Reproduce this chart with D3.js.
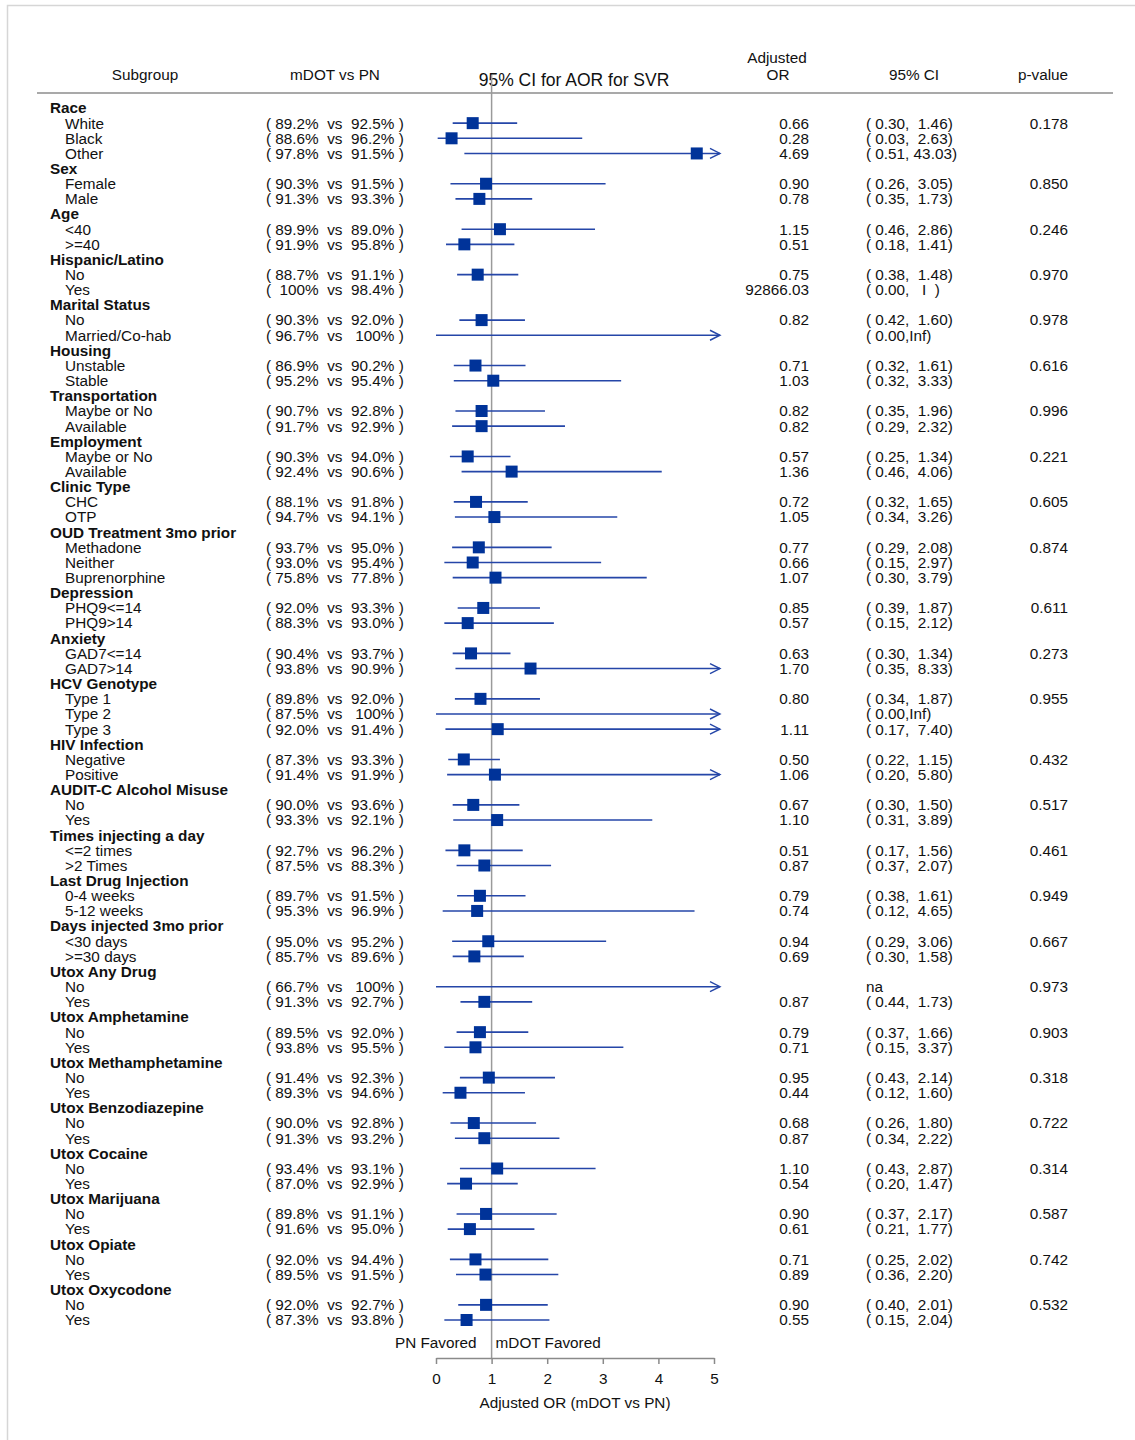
<!DOCTYPE html>
<html>
<head>
<meta charset="utf-8">
<script src="https://cdn.jsdelivr.net/npm/d3@7"></script>
<style>
  html, body { margin: 0; padding: 0; background: #fff; }
  svg text { font-family: "Liberation Sans", Arial, sans-serif; fill: #111; white-space: pre; }
</style>
</head>
<body>
<script>
// ---------------- DATA ----------------
const groupNames = ["Race","Sex","Age","Hispanic/Latino","Marital Status","Housing","Transportation","Employment","Clinic Type","OUD Treatment 3mo prior","Depression","Anxiety","HCV Genotype","HIV Infection","AUDIT-C Alcohol Misuse","Times injecting a day","Last Drug Injection","Days injected 3mo prior","Utox Any Drug","Utox Amphetamine","Utox Methamphetamine","Utox Benzodiazepine","Utox Cocaine","Utox Marijuana","Utox Opiate","Utox Oxycodone"];
const subgroupLabels = [
  ["White","Black","Other"],["Female","Male"],["<40",">=40"],["No","Yes"],["No","Married/Co-hab"],
  ["Unstable","Stable"],["Maybe or No","Available"],["Maybe or No","Available"],["CHC","OTP"],
  ["Methadone","Neither","Buprenorphine"],["PHQ9<=14","PHQ9>14"],["GAD7<=14","GAD7>14"],
  ["Type 1","Type 2","Type 3"],["Negative","Positive"],["No","Yes"],["<=2 times",">2 Times"],
  ["0-4 weeks","5-12 weeks"],["<30 days",">=30 days"],["No","Yes"],["No","Yes"],["No","Yes"],
  ["No","Yes"],["No","Yes"],["No","Yes"],["No","Yes"],["No","Yes"]
];
const pValues = ["0.178","0.850","0.246","0.970","0.978","0.616","0.996","0.221","0.605","0.874","0.611","0.273","0.955","0.432","0.517","0.461","0.949","0.667","0.973","0.903","0.318","0.722","0.314","0.587","0.742","0.532"];
// per-subgroup (flat, in row order)
const mdotPct = [89.2,88.6,97.8, 90.3,91.3, 89.9,91.9, 88.7,100, 90.3,96.7, 86.9,95.2, 90.7,91.7, 90.3,92.4, 88.1,94.7, 93.7,93.0,75.8, 92.0,88.3, 90.4,93.8, 89.8,87.5,92.0, 87.3,91.4, 90.0,93.3, 92.7,87.5, 89.7,95.3, 95.0,85.7, 66.7,91.3, 89.5,93.8, 91.4,89.3, 90.0,91.3, 93.4,87.0, 89.8,91.6, 92.0,89.5, 92.0,87.3];
const pnPct   = [92.5,96.2,91.5, 91.5,93.3, 89.0,95.8, 91.1,98.4, 92.0,100, 90.2,95.4, 92.8,92.9, 94.0,90.6, 91.8,94.1, 95.0,95.4,77.8, 93.3,93.0, 93.7,90.9, 92.0,100,91.4, 93.3,91.9, 93.6,92.1, 96.2,88.3, 91.5,96.9, 95.2,89.6, 100,92.7, 92.0,95.5, 92.3,94.6, 92.8,93.2, 93.1,92.9, 91.1,95.0, 94.4,91.5, 92.7,93.8];
const aor     = [0.66,0.28,4.69, 0.90,0.78, 1.15,0.51, 0.75,92866.03, 0.82,null, 0.71,1.03, 0.82,0.82, 0.57,1.36, 0.72,1.05, 0.77,0.66,1.07, 0.85,0.57, 0.63,1.70, 0.80,null,1.11, 0.50,1.06, 0.67,1.10, 0.51,0.87, 0.79,0.74, 0.94,0.69, null,0.87, 0.79,0.71, 0.95,0.44, 0.68,0.87, 1.10,0.54, 0.90,0.61, 0.71,0.89, 0.90,0.55];
const ciLow   = [0.30,0.03,0.51, 0.26,0.35, 0.46,0.18, 0.38,null, 0.42,0.00, 0.32,0.32, 0.35,0.29, 0.25,0.46, 0.32,0.34, 0.29,0.15,0.30, 0.39,0.15, 0.30,0.35, 0.34,0.00,0.17, 0.22,0.20, 0.30,0.31, 0.17,0.37, 0.38,0.12, 0.29,0.30, 0.00,0.44, 0.37,0.15, 0.43,0.12, 0.26,0.34, 0.43,0.20, 0.37,0.21, 0.25,0.36, 0.40,0.15];
const ciHigh  = [1.46,2.63,43.03, 3.05,1.73, 2.86,1.41, 1.48,null, 1.60,Infinity, 1.61,3.33, 1.96,2.32, 1.34,4.06, 1.65,3.26, 2.08,2.97,3.79, 1.87,2.12, 1.34,8.33, 1.87,Infinity,7.40, 1.15,5.80, 1.50,3.89, 1.56,2.07, 1.61,4.65, 3.06,1.58, Infinity,1.73, 1.66,3.37, 2.14,1.60, 1.80,2.22, 2.87,1.47, 2.17,1.77, 2.02,2.20, 2.01,2.04];
const ciLabels = ["( 0.30,  1.46)","( 0.03,  2.63)","( 0.51, 43.03)","( 0.26,  3.05)","( 0.35,  1.73)","( 0.46,  2.86)","( 0.18,  1.41)","( 0.38,  1.48)","( 0.00,   I  )","( 0.42,  1.60)","( 0.00,Inf)","( 0.32,  1.61)","( 0.32,  3.33)","( 0.35,  1.96)","( 0.29,  2.32)","( 0.25,  1.34)","( 0.46,  4.06)","( 0.32,  1.65)","( 0.34,  3.26)","( 0.29,  2.08)","( 0.15,  2.97)","( 0.30,  3.79)","( 0.39,  1.87)","( 0.15,  2.12)","( 0.30,  1.34)","( 0.35,  8.33)","( 0.34,  1.87)","( 0.00,Inf)","( 0.17,  7.40)","( 0.22,  1.15)","( 0.20,  5.80)","( 0.30,  1.50)","( 0.31,  3.89)","( 0.17,  1.56)","( 0.37,  2.07)","( 0.38,  1.61)","( 0.12,  4.65)","( 0.29,  3.06)","( 0.30,  1.58)","na","( 0.44,  1.73)","( 0.37,  1.66)","( 0.15,  3.37)","( 0.43,  2.14)","( 0.12,  1.60)","( 0.26,  1.80)","( 0.34,  2.22)","( 0.43,  2.87)","( 0.20,  1.47)","( 0.37,  2.17)","( 0.21,  1.77)","( 0.25,  2.02)","( 0.36,  2.20)","( 0.40,  2.01)","( 0.15,  2.04)"];
const axisTicks = [0,1,2,3,4,5];
const headerLabels = ["Subgroup","mDOT vs PN","95% CI for AOR for SVR","Adjusted","OR","95% CI","p-value"];

// ---------------- LAYOUT ----------------
const W = 1135, H = 1440;
const FS = "15.3px";
const svg = d3.select("body").append("svg").attr("width", W).attr("height", H);

// frame
svg.append("path").attr("d", "M7.5,1440V5.5H1135").attr("fill","none").attr("stroke","#d6d6d6").attr("stroke-width",1.5);

// build rows
const rows = [];
let k = 0;
groupNames.forEach((g, gi) => {
  rows.push({type:"group", label:g});
  subgroupLabels[gi].forEach((s, si) => {
    rows.push({type:"sub", label:s, idx:k, p: si === 0 ? pValues[gi] : ""});
    k++;
  });
});

const y = d3.scaleLinear().domain([0, rows.length - 1]).range([108, 1320]);
const x = d3.scaleLinear().domain([0, 5]).range([436, 714]);
const arrowX = x(5) + 6;

const fmtPct = v => v === 100 ? " 100%" : v.toFixed(1) + "%";

// header
const hdr = svg.append("g");
hdr.append("text").attr("x",145).attr("y",80).attr("text-anchor","middle").style("font-size",FS).text(headerLabels[0]);
hdr.append("text").attr("x",335).attr("y",80).attr("text-anchor","middle").style("font-size",FS).text(headerLabels[1]);
hdr.append("text").attr("x",574).attr("y",86).attr("text-anchor","middle").style("font-size","17.5px").text(headerLabels[2]);
hdr.append("text").attr("x",777).attr("y",63).attr("text-anchor","middle").style("font-size",FS).text(headerLabels[3]);
hdr.append("text").attr("x",778).attr("y",80).attr("text-anchor","middle").style("font-size",FS).text(headerLabels[4]);
hdr.append("text").attr("x",914).attr("y",80).attr("text-anchor","middle").style("font-size",FS).text(headerLabels[5]);
hdr.append("text").attr("x",1043).attr("y",80).attr("text-anchor","middle").style("font-size",FS).text(headerLabels[6]);
svg.append("line").attr("x1",37).attr("x2",1113).attr("y1",93).attr("y2",93).attr("stroke","#a9a9a9").attr("stroke-width",2);

// reference line at OR = 1
svg.append("line").attr("x1",x(1)).attr("x2",x(1)).attr("y1",75).attr("y2",1358).attr("stroke","#9a9a9a").attr("stroke-width",1.5);

// text rows
const tg = svg.append("g").style("font-size",FS);
rows.forEach((r, i) => {
  const yy = y(i);
  if (r.type === "group") {
    tg.append("text").attr("x",50).attr("y",yy).attr("dy","0.35em").style("font-weight","bold").text(r.label);
  } else {
    tg.append("text").attr("x",65).attr("y",yy).attr("dy","0.35em").text(r.label);
    tg.append("text").attr("x",266).attr("y",yy).attr("dy","0.35em")
      .text("( " + fmtPct(mdotPct[r.idx]) + "  vs  " + fmtPct(pnPct[r.idx]) + " )");
    if (aor[r.idx] !== null)
      tg.append("text").attr("x",809).attr("y",yy).attr("dy","0.35em").attr("text-anchor","end").text(aor[r.idx].toFixed(2));
    tg.append("text").attr("x",866).attr("y",yy).attr("dy","0.35em").text(ciLabels[r.idx]);
    if (r.p) tg.append("text").attr("x",1068).attr("y",yy).attr("dy","0.35em").attr("text-anchor","end").text(r.p);
  }
});

// CI lines, arrows, squares
const mg = svg.append("g");
const lineColor = "#2546a8", markColor = "#003399";
rows.forEach((r, i) => {
  if (r.type !== "sub") return;
  const lo = ciLow[r.idx], hi = ciHigh[r.idx], est = aor[r.idx];
  const yy = y(i);
  if (lo !== null && hi !== null) {
    const over = hi > 5;
    const x2 = over ? arrowX : x(hi);
    mg.append("line").attr("x1",x(lo)).attr("x2",x2).attr("y1",yy).attr("y2",yy)
      .attr("stroke",lineColor).attr("stroke-width",1.6);
    if (over) {
      mg.append("path").attr("d",`M${arrowX-10},${yy-5}L${arrowX},${yy}L${arrowX-10},${yy+5}`)
        .attr("fill","none").attr("stroke",lineColor).attr("stroke-width",1.4);
    }
  }
  if (est !== null && est <= 5) {
    mg.append("rect").attr("x",x(est)-6).attr("y",yy-6).attr("width",12).attr("height",12).attr("fill",markColor);
  }
});

// x axis
const axis = d3.axisBottom(x).tickValues(axisTicks).tickFormat(d3.format("d")).tickSize(6).tickSizeOuter(0).tickPadding(9);
const ag = svg.append("g").attr("transform","translate(0,1358)").call(axis);
ag.select(".domain").attr("stroke","#8a8a8a").attr("stroke-width",1.5);
ag.selectAll(".tick line").attr("stroke","#8a8a8a").attr("stroke-width",1.5);
ag.selectAll(".tick text").style("font-size",FS).style("font-family","'Liberation Sans', Arial, sans-serif").attr("fill","#222");

svg.append("text").attr("x",x(1)-15).attr("y",1348).attr("text-anchor","end").style("font-size",FS).text("PN Favored");
svg.append("text").attr("x",x(1)+4).attr("y",1348).style("font-size",FS).text("mDOT Favored");
svg.append("text").attr("x",575).attr("y",1408).attr("text-anchor","middle").style("font-size",FS).text("Adjusted OR (mDOT vs PN)");
</script>
</body>
</html>
